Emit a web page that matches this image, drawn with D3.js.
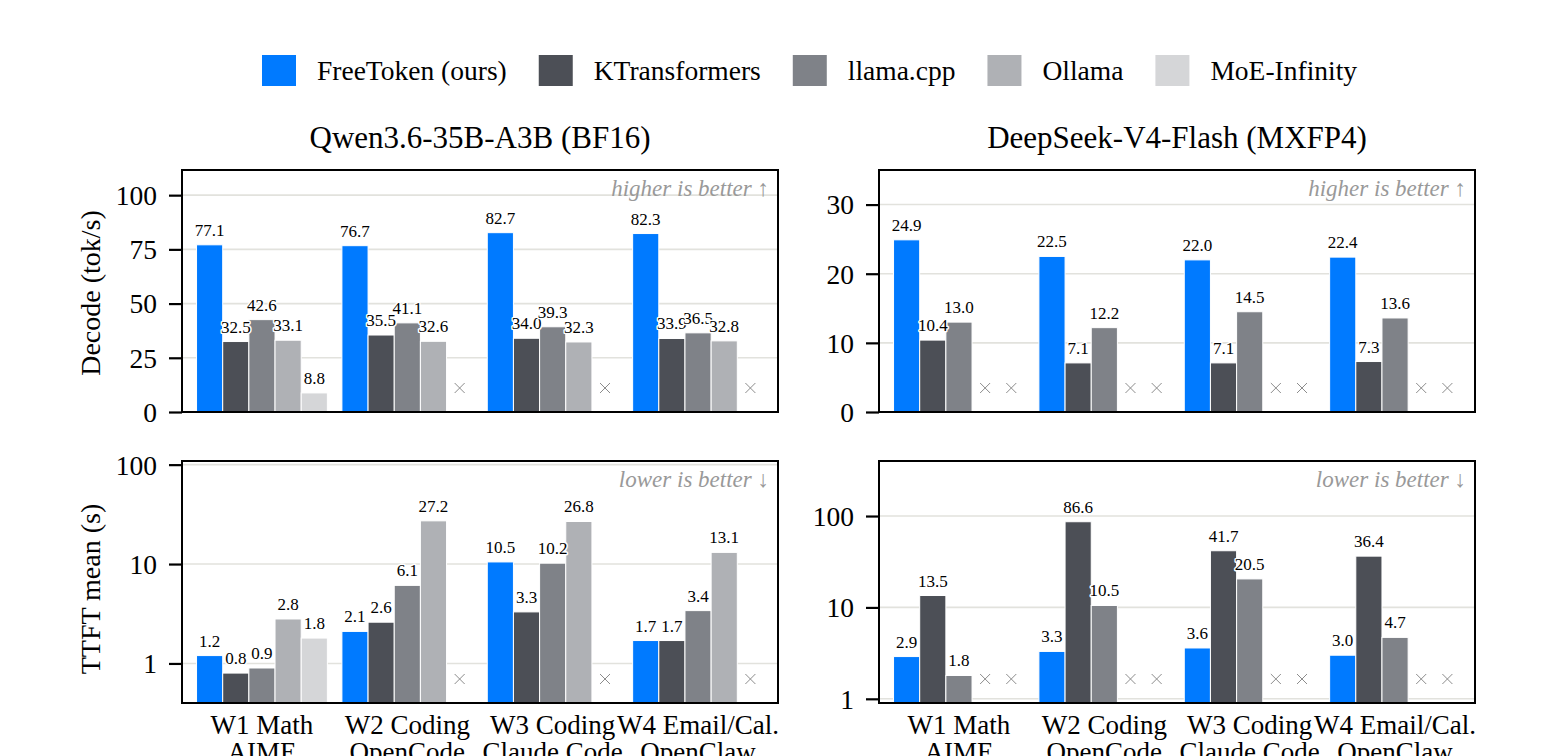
<!DOCTYPE html>
<html>
<head>
<meta charset="utf-8">
<script src="https://cdn.jsdelivr.net/npm/d3@7"></script>
<style>
  body { margin: 0; background: #fff; }
  svg { display: block; font-family: "Liberation Serif", "Times New Roman", serif; }
  .axis .domain { display: none; }
  .axis text { font-family: "Liberation Serif", serif; fill: #000; }
</style>
</head>
<body>
<div id="chart"></div>
<script>
// Data
const series = ["FreeToken (ours)", "KTransformers", "llama.cpp", "Ollama", "MoE-Infinity"];
const seriesColors = ["#007aff", "#4c4f56", "#7f8288", "#afb1b5", "#d5d6d8"];
const workloadLine1 = ["W1 Math", "W2 Coding", "W3 Coding", "W4 Email/Cal."];
const workloadLine2 = ["AIME", "OpenCode", "Claude Code", "OpenClaw"];

// Qwen3.6-35B-A3B, decode tok/s (null = not supported)
const qwenDecodeFree = [77.1, 76.7, 82.7, 82.3];
const qwenDecodeKT = [32.5, 35.5, 34.0, 33.9];
const qwenDecodeLlama = [42.6, 41.1, 39.3, 36.5];
const qwenDecodeOllama = [33.1, 32.6, 32.3, 32.8];
const qwenDecodeMoE = [8.8, null, null, null];

// Qwen3.6-35B-A3B, TTFT mean (s)
const qwenTtftFree = [1.2, 2.1, 10.5, 1.7];
const qwenTtftKT = [0.8, 2.6, 3.3, 1.7];
const qwenTtftLlama = [0.9, 6.1, 10.2, 3.4];
const qwenTtftOllama = [2.8, 27.2, 26.8, 13.1];
const qwenTtftMoE = [1.8, null, null, null];

// DeepSeek-V4-Flash, decode tok/s
const dsDecodeFree = [24.9, 22.5, 22.0, 22.4];
const dsDecodeKT = [10.4, 7.1, 7.1, 7.3];
const dsDecodeLlama = [13.0, 12.2, 14.5, 13.6];
const dsDecodeOllama = [null, null, null, null];
const dsDecodeMoE = [null, null, null, null];

// DeepSeek-V4-Flash, TTFT mean (s)
const dsTtftFree = [2.9, 3.3, 3.6, 3.0];
const dsTtftKT = [13.5, 86.6, 41.7, 36.4];
const dsTtftLlama = [1.8, 10.5, 20.5, 4.7];
const dsTtftOllama = [null, null, null, null];
const dsTtftMoE = [null, null, null, null];

const decodeTicks = [0, 25, 50, 75, 100];
const dsDecodeTicks = [0, 10, 20, 30];
const ttftTicks = [1, 10, 100];

const width = 1548;
const height = 756;

const svg = d3
  .select("#chart")
  .append("svg")
  .attr("width", width)
  .attr("height", height);

svg.append("rect").attr("width", width).attr("height", height).attr("fill", "#fff");

// Panel layout
const colX = [[182, 778], [879, 1475]];
const rowY = [[170, 412], [461, 703]];
const barW = 0.18;

const panels = [
  { col: 0, row: 0, log: false, domain: [0, 111.6], ticks: decodeTicks,
    values: [qwenDecodeFree, qwenDecodeKT, qwenDecodeLlama, qwenDecodeOllama, qwenDecodeMoE],
    note: "higher is better \u2191", ylabel: "Decode (tok/s)", ylabelY: 293, title: "Qwen3.6-35B-A3B (BF16)" },
  { col: 1, row: 0, log: false, domain: [0, 35], ticks: dsDecodeTicks,
    values: [dsDecodeFree, dsDecodeKT, dsDecodeLlama, dsDecodeOllama, dsDecodeMoE],
    note: "higher is better \u2191", title: "DeepSeek-V4-Flash (MXFP4)" },
  { col: 0, row: 1, log: true, domain: [0.4, 108.8], ticks: ttftTicks,
    values: [qwenTtftFree, qwenTtftKT, qwenTtftLlama, qwenTtftOllama, qwenTtftMoE],
    note: "lower is better \u2193", ylabel: "TTFT mean (s)", ylabelY: 589, xlabels: true },
  { col: 1, row: 1, log: true, domain: [0.9, 400], ticks: ttftTicks,
    values: [dsTtftFree, dsTtftKT, dsTtftLlama, dsTtftOllama, dsTtftMoE],
    note: "lower is better \u2193", xlabels: true },
];

panels.forEach((p) => {
  const [x0, x1] = colX[p.col];
  const [y0, y1] = rowY[p.row];

  const x = d3.scaleLinear().domain([-0.55, 3.55]).range([x0, x1]);
  const y = (p.log ? d3.scaleLog() : d3.scaleLinear()).domain(p.domain).range([y1, y0]);

  const g = svg.append("g");

  // Gridlines
  g.selectAll("line.grid")
    .data(p.ticks)
    .enter()
    .append("line")
    .attr("x1", x0)
    .attr("x2", x1)
    .attr("y1", (d) => y(d))
    .attr("y2", (d) => y(d))
    .attr("stroke", "#e2e2dd")
    .attr("stroke-width", 1.6);

  // Flatten bars
  const bars = [];
  p.values.forEach((vals, si) => {
    vals.forEach((v, gi) => {
      bars.push({ si, gi, v, xc: gi + (si - 2) * barW });
    });
  });

  g.selectAll("rect.bar")
    .data(bars.filter((d) => d.v !== null))
    .enter()
    .append("rect")
    .attr("class", "bar")
    .attr("x", (d) => x(d.xc - barW / 2))
    .attr("width", x(barW) - x(0))
    .attr("y", (d) => y(d.v))
    .attr("height", (d) => y1 - y(d.v))
    .attr("fill", (d) => seriesColors[d.si])
    .attr("stroke", "#fff")
    .attr("stroke-width", 1);

  // Missing markers
  const missing = bars.filter((d) => d.v === null);
  const mk = 5;
  g.selectAll("path.miss")
    .data(missing)
    .enter()
    .append("path")
    .attr("d", (d) => {
      const cx = x(d.xc);
      const cy = y1 - 24;
      return `M${cx - mk},${cy - mk}L${cx + mk},${cy + mk}M${cx - mk},${cy + mk}L${cx + mk},${cy - mk}`;
    })
    .attr("stroke", "#8c8c8c")
    .attr("stroke-width", 1);

  // Value labels with white halo
  g.selectAll("text.value")
    .data(bars.filter((d) => d.v !== null))
    .enter()
    .append("text")
    .attr("x", (d) => x(d.xc))
    .attr("y", (d) => y(d.v) - 9)
    .attr("text-anchor", "middle")
    .style("font-size", "17px")
    .style("paint-order", "stroke")
    .style("stroke", "#fff")
    .style("stroke-width", 3)
    .style("stroke-linejoin", "round")
    .style("fill", "#000")
    .text((d) => d.v.toFixed(1));

  // Frame
  g.append("rect")
    .attr("x", x0)
    .attr("y", y0)
    .attr("width", x1 - x0)
    .attr("height", y1 - y0)
    .attr("fill", "none")
    .attr("stroke", "#000")
    .attr("stroke-width", 2);

  // Y axis
  const yAxis = g
    .append("g")
    .attr("class", "axis")
    .attr("transform", `translate(${x0}, 0)`)
    .call(
      d3.axisLeft(y).tickValues(p.ticks).tickSize(13).tickPadding(12).tickFormat(d3.format("d"))
    );
  yAxis.selectAll("line").attr("stroke", "#000").attr("stroke-width", 2.2);
  yAxis.selectAll("text").style("font-size", "27.5px").attr("dy", "0.34em");

  // Note
  g.append("text")
    .attr("x", x1 - 9)
    .attr("y", y0 + 26)
    .attr("text-anchor", "end")
    .style("font-size", "23px")
    .style("font-style", "italic")
    .style("fill", "#999")
    .text(p.note);

  // Y label
  if (p.ylabel) {
    svg
      .append("text")
      .attr("transform", `translate(100, ${p.ylabelY}) rotate(-90)`)
      .attr("text-anchor", "middle")
      .style("font-size", "28px")
      .text(p.ylabel);
  }

  // Title
  if (p.title) {
    svg
      .append("text")
      .attr("x", (x0 + x1) / 2)
      .attr("y", 148)
      .attr("text-anchor", "middle")
      .style("font-size", "31px")
      .text(p.title);
  }

  // X labels (two lines)
  if (p.xlabels) {
    const xl = g
      .selectAll("text.xl")
      .data(d3.range(workloadLine1.length))
      .enter()
      .append("text")
      .attr("text-anchor", "middle")
      .style("font-size", "27px");
    xl.append("tspan")
      .attr("x", (i) => x(i))
      .attr("y", y1 + 31)
      .text((i) => workloadLine1[i]);
    xl.append("tspan")
      .attr("x", (i) => x(i))
      .attr("y", y1 + 58)
      .text((i) => workloadLine2[i]);
  }
});

// Legend
const legend = svg.append("g").attr("transform", "translate(262, 55)");
let lx = 0;
series.forEach((s, i) => {
  const item = legend.append("g").attr("transform", `translate(${lx}, 0)`);
  item.append("rect").attr("width", 34).attr("height", 31).attr("fill", seriesColors[i]);
  const t = item
    .append("text")
    .attr("x", 55)
    .attr("y", 25)
    .style("font-size", "27.5px")
    .text(s);
  lx += 55 + t.node().getComputedTextLength() + 32;
});
</script>
</body>
</html>
